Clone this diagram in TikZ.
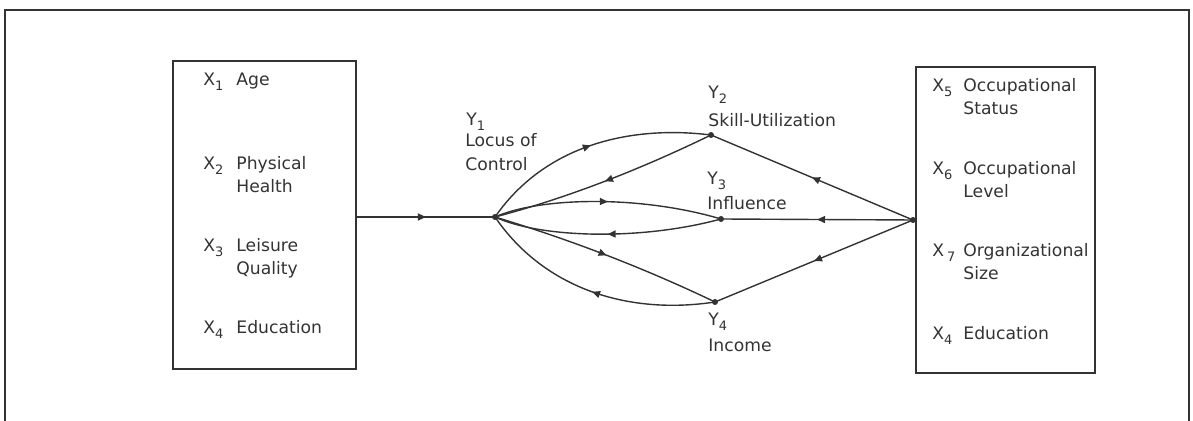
\documentclass[tikz,border=0pt]{standalone}
\usepackage{fontspec}
\setmainfont{DejaVu Sans}
\usetikzlibrary{arrows.meta,decorations.markings}
\newcommand\subx[1]{\raisebox{-0.5ex}{\fontsize{6.5}{8}\selectfont #1}}
\definecolor{ink}{HTML}{333333}
\begin{document}
\begin{tikzpicture}[x=0.5pt,y=-0.5pt,
  lbl/.style={anchor=base west,inner sep=0pt,text=ink,font=\fontsize{8.6}{11.5}\selectfont},
  box/.style={draw=ink,line width=0.8pt,minimum width=#1,inner sep=0pt},
  dot/.style={circle,fill=ink,inner sep=0pt,minimum size=3pt},
  conn/.style={draw=ink,line width=0.7pt},
  mid/.style={postaction={decorate},decoration={markings,mark=at position 0.5 with {\arrow{Triangle[length=4pt,width=3.5pt]}}}}]
\useasboundingbox (0,0) rectangle (1193,421);
% outer frame
\draw[ink,line width=1pt] (5,421) |- (1189,10) -- (1189,421);
% boxes
\node[box=91.5pt,minimum height=154pt] (L) at (264.5,215) {};
\node[box=89.5pt,minimum height=153pt] (R) at (1005.5,220) {};
% left box items
\node[lbl] (x1) at (203,86) {X\subx{1}};
\node[lbl] (t1) at (236,86) {Age};
\node[lbl] (x2) at (203,170) {X\subx{2}};
\node[lbl] (t2) at (236,170) {\begin{tabular}[t]{@{}l@{}}Physical\\Health\end{tabular}};
\node[lbl] (x3) at (203,252) {X\subx{3}};
\node[lbl] (t3) at (236,252) {\begin{tabular}[t]{@{}l@{}}Leisure\\Quality\end{tabular}};
\node[lbl] (x4) at (203,334) {X\subx{4}};
\node[lbl] (t4) at (236,334) {Education};
% right box items
\node[lbl] (x5) at (932,92) {X\subx{5}};
\node[lbl] (t5) at (963,92) {\begin{tabular}[t]{@{}l@{}}Occupational\\Status\end{tabular}};
\node[lbl] (x6) at (932,175) {X\subx{6}};
\node[lbl] (t6) at (963,175) {\begin{tabular}[t]{@{}l@{}}Occupational\\Level\end{tabular}};
\node[lbl] (x7) at (932,257) {X\,\subx{7}};
\node[lbl] (t7) at (963,257) {\begin{tabular}[t]{@{}l@{}}Organizational\\Size\end{tabular}};
\node[lbl] (x8) at (932,340) {X\subx{4}};
\node[lbl] (t8) at (963,340) {Education};
% Y nodes
\node[dot] (Y1) at (495,217) {};
\node[dot] (Y2) at (711,135) {};
\node[dot] (Y3) at (721,219) {};
\node[dot] (Y4) at (715,302) {};
\node[dot] (J) at (913,220) {};
% Y labels
\node[lbl] (y1s) at (466,126) {Y\subx{1}};
\node[lbl] (y1t) at (465,147) {\begin{tabular}[t]{@{}l@{}}Locus of\\[0.5pt]Control\end{tabular}};
\node[lbl] (y2s) at (708,99) {Y\subx{2}};
\node[lbl] (y2t) at (708,127) {Skill-Utilization};
\node[lbl] (y3s) at (707,185) {Y\subx{3}};
\node[lbl] (y3t) at (707,210) {Influence};
\node[lbl] (y4s) at (708,326) {Y\subx{4}};
\node[lbl] (y4t) at (708,352) {Income};
% connectors
\draw[conn,mid] (L.east |- Y1.center) -- (Y1.center);
\draw[conn,mid] (Y1.center) .. controls (545,145) and (630,125) .. (Y2.center);
\draw[conn,mid] (Y2.center) .. controls (639,170) and (567,198) .. (Y1.center);
\draw[conn,mid] (Y1.center) .. controls (540,197) and (640,195) .. (Y3.center);
\draw[conn,mid] (Y3.center) .. controls (640,241) and (540,238) .. (Y1.center);
\draw[conn,mid] (Y1.center) .. controls (568,239) and (642,267) .. (Y4.center);
\draw[conn,mid] (Y4.center) .. controls (630,315) and (545,290) .. (Y1.center);
\draw[conn,mid] (J.center) -- (Y2.center);
\draw[conn,mid] (J.center) -- (Y3.center);
\draw[conn,mid] (J.center) -- (Y4.center);
\end{tikzpicture}
\end{document}
